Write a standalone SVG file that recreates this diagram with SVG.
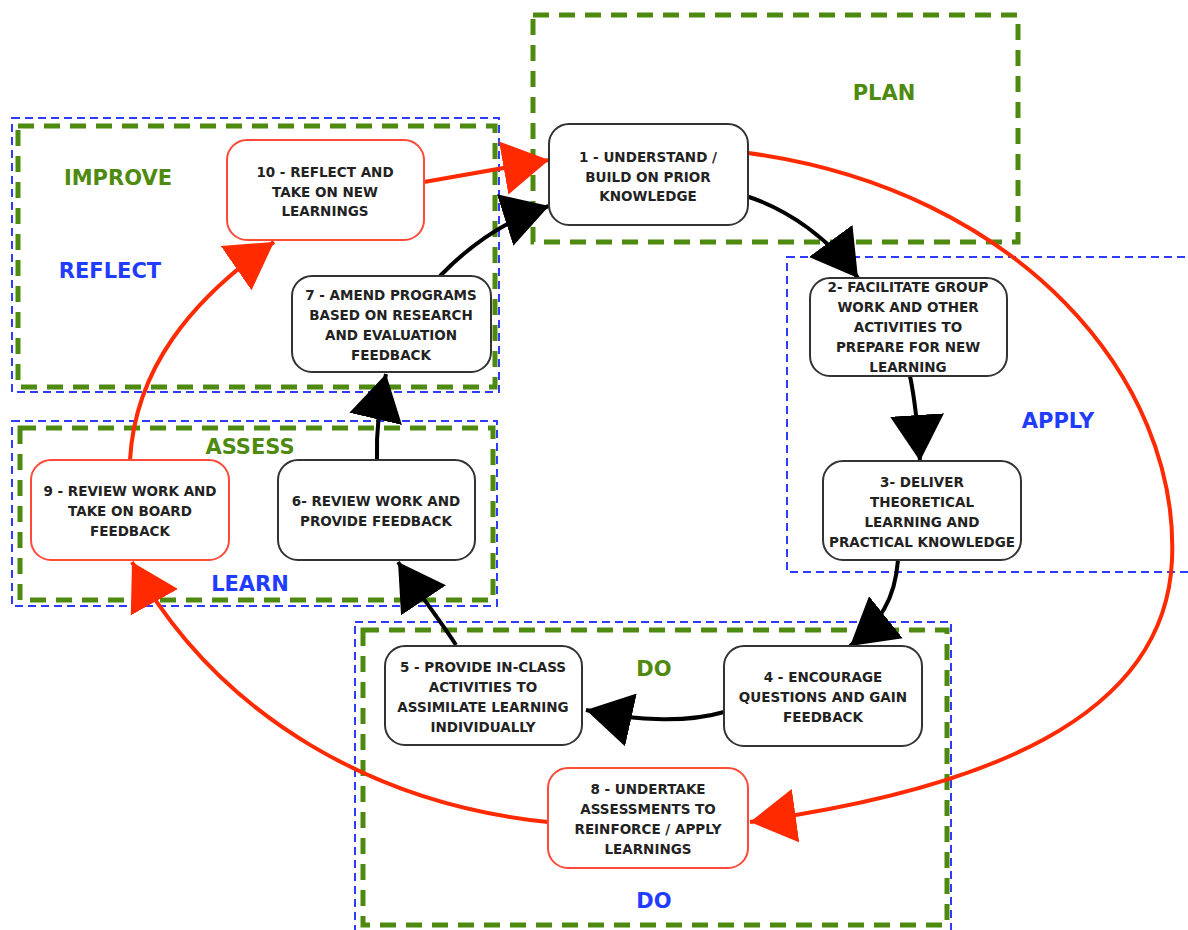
<svg xmlns="http://www.w3.org/2000/svg" width="1188" height="930" viewBox="0 0 1188 930">
<style>
.gf{fill:none;stroke:#4f8a10;stroke-width:5;stroke-dasharray:16 10}
.bf{fill:none;stroke:#2d3cff;stroke-width:2;stroke-dasharray:8 5}
.nb{fill:#fff;stroke:#333;stroke-width:2}
.nr{fill:#fff;stroke:#ff4a3a;stroke-width:2}
.t{font-family:"DejaVu Sans",sans-serif;font-weight:bold;font-size:13.5px;fill:#222;text-anchor:middle}
.lg{font-family:"DejaVu Sans",sans-serif;font-weight:bold;font-size:21px;fill:#4f8a10;text-anchor:middle}
.lb{font-family:"DejaVu Sans",sans-serif;font-weight:bold;font-size:21px;fill:#1f3cff;text-anchor:middle}
.ck{fill:none;stroke:#000;stroke-width:4}
.cr{fill:none;stroke:#ff2a00;stroke-width:4}
</style>
<defs>
<marker id="ak" markerUnits="userSpaceOnUse" markerWidth="48" markerHeight="54" refX="46" refY="27" orient="auto"><path d="M0,0 L46,27 L0,54 z" fill="#000"/></marker>
<marker id="ar" markerUnits="userSpaceOnUse" markerWidth="48" markerHeight="54" refX="46" refY="27" orient="auto"><path d="M0,0 L46,27 L0,54 z" fill="#ff2a00"/></marker>
</defs>
<rect width="1188" height="930" fill="#fff"/>
<g id="frames">
<rect class="bf" x="12" y="118" width="487" height="274"/>
<rect class="gf" x="18" y="126" width="477" height="261"/>
<rect class="bf" x="12" y="421" width="485" height="185"/>
<rect class="gf" x="20" y="428" width="473" height="172"/>
<rect class="bf" x="787" y="257" width="420" height="315"/>
<rect class="bf" x="355" y="622" width="596" height="320"/>
<rect class="gf" x="363" y="630" width="584" height="295"/>
<rect class="gf" x="533" y="15" width="485" height="227"/>
</g>
<g id="labels">
<text class="lg" x="118" y="185">IMPROVE</text>
<text class="lb" x="110" y="278">REFLECT</text>
<text class="lg" x="884" y="100">PLAN</text>
<text class="lb" x="1058" y="428">APPLY</text>
<text class="lg" x="250" y="454">ASSESS</text>
<text class="lb" x="250" y="591">LEARN</text>
<text class="lg" x="654" y="676">DO</text>
<text class="lb" x="654" y="908">DO</text>
</g>
<g id="connectors">
<path class="ck" d="M746,196 C790,210 830,240 858,278" marker-end="url(#ak)"/>
<path class="ck" d="M910,376 C915,400 918,430 920,461" marker-end="url(#ak)"/>
<path class="ck" d="M898,560 C895,600 880,622 850,646" marker-end="url(#ak)"/>
<path class="ck" d="M724,712 C690,722 640,722 586,710" marker-end="url(#ak)"/>
<path class="ck" d="M456,645 C440,620 420,595 398,562" marker-end="url(#ak)"/>
<path class="ck" d="M377,460 C376,430 380,400 386,374" marker-end="url(#ak)"/>
<path class="ck" d="M440,276 C470,245 505,220 549,206" marker-end="url(#ak)"/>
<path class="cr" d="M424,182 L549,160" marker-end="url(#ar)"/>
<path class="cr" d="M748,153 C1020,190 1180,380 1172,560 C1165,720 980,790 750,822" marker-end="url(#ar)"/>
<path class="cr" d="M548,822 C380,805 220,720 132,562" marker-end="url(#ar)"/>
<path class="cr" d="M130,460 C135,370 190,300 274,242" marker-end="url(#ar)"/>
</g>
<g id="n1"><rect class="nb" x="549" y="124" width="199" height="101" rx="20"/>
<text class="t" x="648" y="162">1 - UNDERSTAND /</text><text class="t" x="648" y="182">BUILD ON PRIOR</text><text class="t" x="648" y="201">KNOWLEDGE</text></g>
<g id="n10"><rect class="nr" x="227" y="140" width="197" height="100" rx="20"/>
<text class="t" x="325" y="177">10 - REFLECT AND</text><text class="t" x="325" y="197">TAKE ON NEW</text><text class="t" x="325" y="216">LEARNINGS</text></g>
<g id="n7"><rect class="nb" x="292" y="276" width="199" height="96" rx="20"/>
<text class="t" x="391" y="300">7 - AMEND PROGRAMS</text><text class="t" x="391" y="320">BASED ON RESEARCH</text><text class="t" x="391" y="340">AND EVALUATION</text><text class="t" x="391" y="360">FEEDBACK</text></g>
<g id="n2"><rect class="nb" x="810" y="278" width="197" height="98" rx="20"/>
<text class="t" x="908" y="292">2- FACILITATE GROUP</text><text class="t" x="908" y="312">WORK AND OTHER</text><text class="t" x="908" y="332">ACTIVITIES TO</text><text class="t" x="908" y="352">PREPARE FOR NEW</text><text class="t" x="908" y="372">LEARNING</text></g>
<g id="n3"><rect class="nb" x="823" y="461" width="198" height="99" rx="20"/>
<text class="t" x="922" y="487">3- DELIVER</text><text class="t" x="922" y="507">THEORETICAL</text><text class="t" x="922" y="527">LEARNING AND</text><text class="t" x="922" y="547">PRACTICAL KNOWLEDGE</text></g>
<g id="n6"><rect class="nb" x="278" y="460" width="197" height="100" rx="20"/>
<text class="t" x="376" y="506">6- REVIEW WORK AND</text><text class="t" x="376" y="526">PROVIDE FEEDBACK</text></g>
<g id="n9"><rect class="nr" x="31" y="460" width="198" height="100" rx="20"/>
<text class="t" x="130" y="496">9 - REVIEW WORK AND</text><text class="t" x="130" y="516">TAKE ON BOARD</text><text class="t" x="130" y="536">FEEDBACK</text></g>
<g id="n5"><rect class="nb" x="385" y="646" width="197" height="99" rx="20"/>
<text class="t" x="483" y="672">5 - PROVIDE IN-CLASS</text><text class="t" x="483" y="692">ACTIVITIES TO</text><text class="t" x="483" y="712">ASSIMILATE LEARNING</text><text class="t" x="483" y="732">INDIVIDUALLY</text></g>
<g id="n4"><rect class="nb" x="724" y="646" width="198" height="100" rx="20"/>
<text class="t" x="823" y="682">4 - ENCOURAGE</text><text class="t" x="823" y="702">QUESTIONS AND GAIN</text><text class="t" x="823" y="722">FEEDBACK</text></g>
<g id="n8"><rect class="nr" x="548" y="768" width="200" height="100" rx="20"/>
<text class="t" x="648" y="794">8 - UNDERTAKE</text><text class="t" x="648" y="814">ASSESSMENTS TO</text><text class="t" x="648" y="834">REINFORCE / APPLY</text><text class="t" x="648" y="854">LEARNINGS</text></g>
</svg>
